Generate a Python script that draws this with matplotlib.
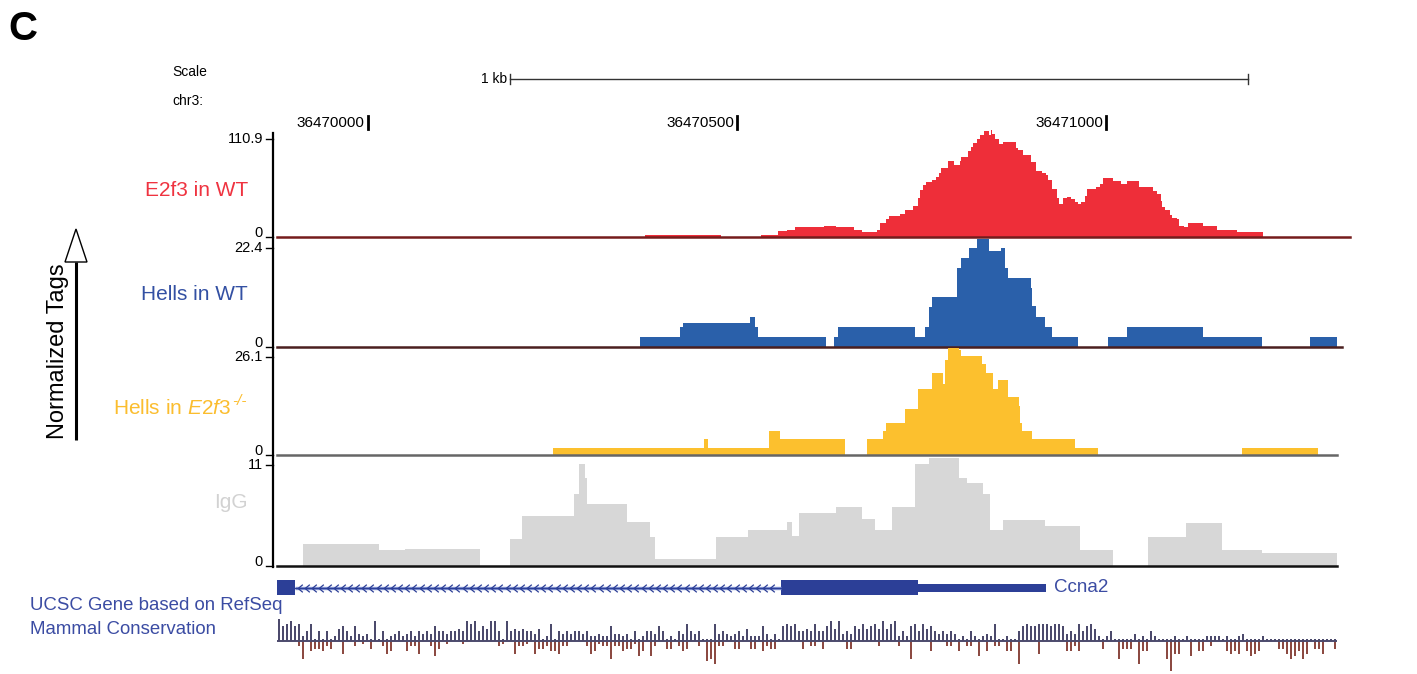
import numpy as np
import matplotlib
matplotlib.use("Agg")
import matplotlib.pyplot as plt
from matplotlib.path import Path
from matplotlib.patches import Polygon, Rectangle
from matplotlib.transforms import offset_copy

plt.rcParams["font.family"] = ["Liberation Sans", "DejaVu Sans"]
plt.rcParams["mathtext.fontset"] = "custom"
plt.rcParams["mathtext.rm"] = "Liberation Sans"
plt.rcParams["mathtext.it"] = "Liberation Sans:italic"

# ---------------------------------------------------------------- data
chrom = "chr3"
view_start, view_end = 36469877, 36471313
pos_ref = 36470000                      # bin edges below are bp offsets from here
ruler_ticks = [36470000, 36470500, 36471000]
scale_bar_start, scale_bar_len = 36470192, 1000

e2f3_edges = [375, 478, 533, 556, 568, 579, 618, 634, 659, 669, 690, 694, 702, 706,
              721, 728, 738, 745, 748, 752, 756, 764, 770, 774, 776, 786, 794, 802,
              804, 813, 817, 820, 825, 829, 835, 841, 844, 846, 850, 855, 860, 878,
              881, 888, 898, 905, 913, 919, 921, 927, 934, 936, 942, 947, 953, 958,
              962, 966, 972, 974, 986, 992, 996, 1010, 1020, 1028, 1045, 1064, 1069,
              1075, 1076, 1080, 1087, 1089, 1096, 1099, 1106, 1111, 1131, 1150, 1178, 1213]
e2f3_vals = [2.3, 0, 2.3, 6.8, 7.9, 11.3, 12.4, 11.3, 7.9, 5.7, 7.9, 15.8, 20.4, 23.8,
             26.0, 30.6, 35.1, 44.1, 53.2, 58.8, 62.2, 64.5, 67.9, 72.4, 78.1, 86.0, 81.5,
             86.0, 90.5, 97.3, 101.8, 106.4, 110.9, 115.4, 120.0, 115.4, 121.1, 116.6,
             110.9, 105.2, 107.5, 100.7, 98.4, 92.8, 84.9, 74.7, 72.4, 70.2, 64.5, 54.3,
             44.1, 37.3, 44.1, 45.3, 43.0, 39.6, 37.3, 39.6, 46.4, 54.3, 56.6, 60.0, 66.8,
             63.4, 60.0, 63.4, 56.6, 52.1, 48.7, 40.7, 33.9, 30.6, 24.9, 21.5, 20.4, 12.4,
             11.3, 15.8, 12.4, 7.9, 5.7]

hells_wt_edges = [369, 423, 427, 518, 524, 528, 621, 631, 637, 741, 755, 760, 764, 798,
                  804, 814, 825, 841, 858, 863, 867, 898, 900, 905, 917, 927, 962, 1003,
                  1028, 1131, 1211, 1276, 1313]
hells_wt_vals = [2.3, 4.5, 5.4, 6.8, 4.5, 2.3, 0, 2.3, 4.5, 2.3, 4.5, 9.1, 11.3, 17.9,
                 20.1, 22.4, 24.4, 21.7, 22.4, 17.9, 15.6, 13.4, 9.3, 6.8, 4.5, 2.3, 0,
                 2.3, 4.5, 2.3, 0, 2.3]

hells_ko_edges = [251, 455, 461, 543, 558, 646, 676, 698, 702, 728, 745, 764, 779, 782,
                  786, 801, 804, 832, 837, 847, 854, 867, 882, 883, 886, 900, 958, 989,
                  1184, 1287]
hells_ko_vals = [1.9, 4.3, 1.9, 6.4, 4.3, 0, 4.3, 6.4, 8.5, 12.2, 17.6, 21.8, 18.9, 25.3,
                 28.5, 28.0, 26.4, 24.2, 21.8, 17.6, 20.0, 15.4, 13.0, 8.5, 6.4, 4.3, 1.9,
                 0, 1.9]

igg_edges = [-88, 15, 50, 152, 192, 209, 280, 286, 294, 297, 351, 382, 389, 472, 515,
             568, 575, 584, 634, 669, 687, 710, 741, 760, 801, 812, 833, 843, 860, 917,
             965, 1010, 1057, 1108, 1157, 1211, 1313]
igg_vals = [2.4, 1.7, 1.8, 0, 2.9, 5.4, 7.8, 11.1, 9.6, 6.7, 4.8, 3.1, 0.7, 3.1, 3.9,
            4.8, 3.2, 5.7, 6.4, 5.1, 3.9, 6.4, 11.1, 11.8, 9.6, 9.0, 7.8, 3.9, 5.0, 4.3,
            1.7, 0, 3.1, 4.6, 1.7, 1.4]

track_names = ["E2f3 in WT", "Hells in WT", r"Hells in $\mathit{E2f3}$", "IgG"]
track_sups = ["", "", "-/-", ""]
track_max = [110.9, 22.4, 26.1, 11]

gene_name = "Ccna2"
gene_cds = [(-140, -98), (560, 745)]
gene_utr = [(745, 919)]
gene_intron = (-98, 560)

# conservation scores, fixed step starting at view_start
cons_step = 5.42
cons_pos = [9, 6, 7, 8, 6, 7, 2, 4, 7, 1, 4, 1, 4, 1, 2, 5, 6, 4, 2, 6,
            3, 2, 3, 1, 8, 1, 4, 1, 2, 3, 4, 2, 3, 4, 2, 4, 3, 4, 3, 6,
            4, 4, 3, 4, 4, 5, 4, 8, 7, 8, 4, 6, 5, 8, 8, 4, 1, 8, 4, 5,
            4, 5, 4, 4, 3, 5, 1, 2, 7, 1, 4, 3, 4, 3, 4, 4, 3, 4, 2, 2,
            3, 2, 2, 6, 3, 3, 2, 3, 1, 4, 1, 2, 4, 4, 3, 6, 4, 1, 2, 1,
            4, 3, 7, 4, 3, 4, 1, 1, 1, 7, 3, 4, 3, 2, 3, 4, 2, 5, 2, 2,
            2, 6, 3, 1, 3, 1, 6, 7, 6, 7, 4, 4, 5, 4, 7, 4, 4, 6, 8, 5,
            8, 3, 4, 3, 6, 5, 7, 5, 6, 7, 5, 8, 5, 7, 8, 2, 4, 2, 6, 7,
            4, 7, 5, 6, 4, 3, 4, 3, 4, 3, 1, 2, 1, 4, 2, 1, 2, 3, 2, 7,
            1, 1, 2, 1, 1, 4, 6, 7, 6, 6, 7, 7, 7, 6, 7, 7, 6, 3, 4, 3,
            7, 4, 6, 7, 5, 2, 1, 2, 4, 1, 1, 1, 1, 1, 3, 1, 2, 1, 4, 2,
            1, 1, 1, 1, 2, 1, 1, 2, 1, 1, 1, 1, 2, 2, 2, 2, 1, 2, 1, 1,
            2, 3, 1, 1, 1, 1, 2, 1, 1, 1, 1, 1, 1, 1, 1, 1, 1, 1, 1, 1,
            1, 1, 1, 1, 1]
cons_neg = [0, 0, 0, 0, 0, 2, 7, 0, 4, 3, 3, 4, 2, 3, 0, 0, 5, 0, 0, 2,
            0, 1, 0, 3, 0, 0, 2, 5, 4, 0, 0, 0, 4, 2, 2, 5, 0, 0, 2, 6,
            3, 0, 1, 0, 0, 0, 1, 0, 0, 0, 0, 0, 0, 0, 0, 2, 1, 0, 0, 5,
            2, 2, 1, 0, 5, 3, 3, 2, 4, 4, 5, 2, 2, 0, 0, 0, 0, 2, 5, 4,
            1, 2, 2, 7, 2, 2, 4, 3, 3, 1, 6, 4, 0, 6, 2, 0, 0, 3, 3, 0,
            2, 4, 3, 0, 0, 2, 0, 8, 7, 9, 2, 2, 0, 0, 3, 3, 0, 0, 3, 3,
            0, 4, 2, 3, 3, 0, 0, 0, 0, 0, 0, 3, 0, 2, 2, 0, 3, 0, 0, 0,
            0, 0, 3, 3, 0, 0, 0, 0, 0, 0, 2, 0, 0, 0, 0, 2, 0, 0, 7, 0,
            0, 0, 0, 4, 0, 0, 0, 2, 2, 0, 4, 0, 2, 2, 0, 6, 0, 4, 0, 2,
            2, 0, 4, 4, 0, 9, 0, 0, 0, 0, 5, 0, 0, 0, 0, 0, 0, 4, 4, 2,
            4, 0, 0, 0, 0, 0, 3, 0, 0, 0, 7, 3, 3, 3, 0, 9, 4, 4, 0, 0,
            0, 0, 7, 12, 5, 5, 0, 0, 6, 0, 4, 4, 0, 2, 0, 0, 0, 4, 5, 4,
            5, 0, 4, 6, 5, 4, 0, 0, 0, 0, 3, 3, 5, 7, 6, 4, 7, 5, 0, 3,
            3, 5, 0, 0, 3]

# ---------------------------------------------------------------- layout
W, H = 1417, 674
X0, X1 = 277, 1337
track_rows = [(139, 237), (248, 347), (357, 455), (465, 565.5)]
label_y = [191, 294, 408, 503]
zero_line_extent = [1.012, 1.005, 1.0, 1.0]
fills = ["#ee2e39", "#2a60aa", "#fcc02e", "#d7d7d7"]
label_colors = ["#ef3340", "#3350a3", "#fbbd2e", "#d2d2d2"]
zero_colors = ["#751c1c", "#4a1f1f", "#666666", "#111111"]
gene_color = "#2c3f97"
text_blue = "#3b4ca3"


def box(x0, y0, x1, y1):
    return [x0 / W, 1 - y1 / H, (x1 - x0) / W, (y1 - y0) / H]


fig = plt.figure(figsize=(W / 100, H / 100), dpi=100)

# overlay for labels and frame lines, in pixel units
deco = fig.add_axes([0, 0, 1, 1])
deco.set_xlim(0, W)
deco.set_ylim(H, 0)
deco.axis("off")

deco.text(8, 29, "C", fontsize=29, fontweight="bold", va="center", ha="left")
deco.text(172, 72, "Scale", fontsize=10, va="center", ha="left")
deco.text(172, 101, chrom + ":", fontsize=10, va="center", ha="left")

# y-axis label with arrow
deco.text(58, 351, "Normalized Tags", rotation=90, fontsize=17, ha="center", va="center")
deco.plot([76, 76], [440, 262], color="black", lw=2.2, solid_capstyle="butt")
deco.add_patch(Polygon([[65, 262], [87, 262], [76, 229]], closed=True,
                       facecolor="white", edgecolor="black", lw=1))

# shared vertical axis line
deco.plot([273, 273], [133, 567], color="black", lw=1.6)

# ruler
rax = fig.add_axes(box(X0, 55, X1, 135))
rax.set_xlim(view_start, view_end)
rax.set_ylim(135, 55)
rax.axis("off")
sb0, sb1 = scale_bar_start, scale_bar_start + scale_bar_len
rax.plot([sb0, sb1], [79, 79], color="#333333", lw=1)
rax.plot([sb0, sb0], [74, 84], color="#333333", lw=1)
rax.plot([sb1, sb1], [74, 84], color="#333333", lw=1)
rax.text(sb0, 79, "1 kb", fontsize=10, ha="right", va="center",
         transform=offset_copy(rax.transData, fig, x=-2, units="dots"))
for t in ruler_ticks:
    rax.plot([t, t], [116, 129], color="black", lw=2)
    rax.text(t, 123, str(t), fontsize=11, ha="right", va="center",
             transform=offset_copy(rax.transData, fig, x=-3, units="dots"))

# signal tracks
series = [(e2f3_edges, e2f3_vals), (hells_wt_edges, hells_wt_vals),
          (hells_ko_edges, hells_ko_vals), (igg_edges, igg_vals)]
for i, ((edges, vals), (top, base)) in enumerate(zip(series, track_rows)):
    ax = fig.add_axes(box(X0, top, X1, base))
    ax.set_xlim(view_start, view_end)
    ax.set_ylim(0, track_max[i])
    ax.axis("off")
    ax.stairs(vals, pos_ref + np.asarray(edges), baseline=0, fill=True,
              color=fills[i], linewidth=0, clip_on=False)
    ax.axhline(0, xmax=zero_line_extent[i], color=zero_colors[i], lw=1.8, clip_on=False)

    deco.plot([266, 273], [top, top], color="black", lw=1)
    deco.plot([266, 273], [base, base], color="black", lw=1)
    deco.text(263, top, f"{track_max[i]:g}", fontsize=10.5, ha="right", va="center")
    deco.text(263, base - 4, "0", fontsize=10.5, ha="right", va="center")
    if track_sups[i]:
        deco.text(231, label_y[i], track_names[i], fontsize=15, ha="right", va="center",
                  color=label_colors[i])
        deco.text(232, label_y[i] - 7, track_sups[i], fontsize=11, style="italic",
                  ha="left", va="center", color=label_colors[i])
    else:
        deco.text(248, label_y[i], track_names[i], fontsize=15, ha="right", va="center",
                  color=label_colors[i])

# gene model
gax = fig.add_axes(box(X0, 575, X1, 600))
gax.set_xlim(view_start, view_end)
gax.set_ylim(-1, 1)
gax.axis("off")
i0, i1 = pos_ref + gene_intron[0], pos_ref + gene_intron[1]
gax.plot([i0, i1], [0, 0], color="#7d8fd0", lw=2.4, solid_capstyle="butt")
gax.plot([i0, i1], [0, 0], color=gene_color, lw=0.8)
chevron = Path([(0.6, 1), (-0.6, 0), (0.6, -1)], [Path.MOVETO, Path.LINETO, Path.LINETO])
cx = np.arange(i0 + 6, i1 - 3, 9.7)
gax.plot(cx, np.zeros_like(cx), ls="none", marker=chevron, ms=5.5,
         mfc="none", mec=gene_color, mew=0.9)
for s, e in gene_cds:
    gax.add_patch(Rectangle((pos_ref + s, -0.6), e - s, 1.2, color=gene_color, lw=0))
for s, e in gene_utr:
    gax.add_patch(Rectangle((pos_ref + s, -0.32), e - s, 0.64, color=gene_color, lw=0))
gax.text(pos_ref + gene_utr[-1][1], 0, gene_name, fontsize=13.5, color=text_blue,
         ha="left", va="center",
         transform=offset_copy(gax.transData, fig, x=8, units="dots"))

deco.text(30, 606, "UCSC Gene based on RefSeq", fontsize=13.4, color=text_blue,
          ha="left", va="center")
deco.text(30, 630, "Mammal Conservation", fontsize=13.4, color=text_blue,
          ha="left", va="center")

# conservation wiggle
cax = fig.add_axes(box(X0, 611, X1, 673.5))
cax.set_xlim(view_start, view_end)
cax.set_ylim(-13, 12)
cax.axis("off")
centers = view_start + cons_step * (np.arange(len(cons_pos)) + 0.5)
cax.bar(centers, cons_pos, width=cons_step * 0.55, color="#4c4a6c", lw=0)
cax.bar(centers, -np.asarray(cons_neg), width=cons_step * 0.55, color="#8c4a42", lw=0)
cax.axhline(0, color="#4c4a6c", lw=1.4)

fig.savefig("out.png", dpi=100)
